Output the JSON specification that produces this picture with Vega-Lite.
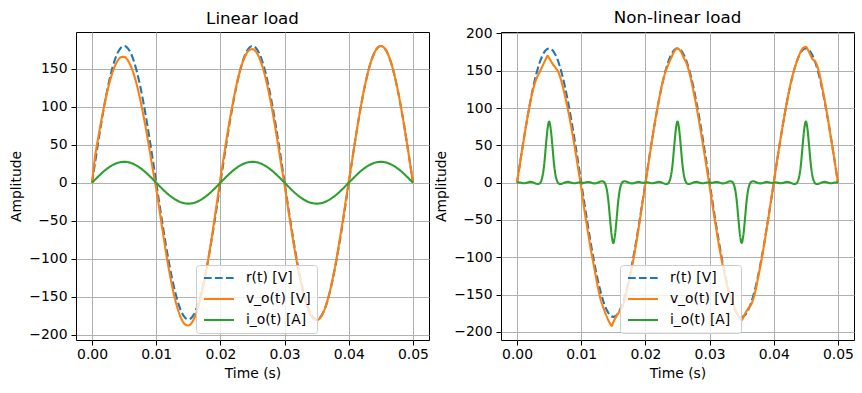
{
"$schema": "https://vega.github.io/schema/vega-lite/v6.json",
"padding": {"left": 9, "top": 9, "right": 5, "bottom": 5},
"spacing": 4,
"config": {
  "font": "DejaVu Sans",
  "view": {"stroke": "black", "strokeWidth": 1},
  "axis": {"grid": true, "gridColor": "#b0b0b0", "gridWidth": 1, "domain": false, "tickColor": "black", "tickSize": 5, "tickWidth": 1, "labelFont": "DejaVu Sans", "labelFontSize": 13.9, "labelColor": "black", "labelPadding": 4, "labelFlush": false, "labelOverlap": false, "titleFont": "DejaVu Sans", "titleFontSize": 13.9, "titleFontWeight": "normal", "titleColor": "black", "titlePadding": 5},
  "axisX": {"labelPadding": 2, "titlePadding": 6},
  "title": {"font": "DejaVu Sans", "fontSize": 16.7, "fontWeight": "normal", "color": "black", "anchor": "middle", "frame": "group"},
  "legend": {"symbolType": "M-1,0H5", "symbolSize": 100, "symbolStrokeWidth": 2.1, "labelFont": "DejaVu Sans", "labelFontSize": 13.9, "labelColor": "black", "padding": 6, "rowPadding": 6, "labelOffset": 30, "fillColor": "rgba(255,255,255,0.8)", "strokeColor": "#cccccc", "cornerRadius": 3}
},
"datasets": {
"r": [
{"t":0,"s":"r","y":0},{"t":0.0005,"s":"r","y":28.2},{"t":0.001,"s":"r","y":55.6},{"t":0.0015,"s":"r","y":81.7},{"t":0.002,"s":"r","y":105.8},{"t":0.0025,"s":"r","y":127.3},{"t":0.003,"s":"r","y":145.6},{"t":0.0035,"s":"r","y":160.4},{"t":0.004,"s":"r","y":171.2},{"t":0.0045,"s":"r","y":177.8},
{"t":0.005,"s":"r","y":180},{"t":0.0055,"s":"r","y":177.8},{"t":0.006,"s":"r","y":171.2},{"t":0.0065,"s":"r","y":160.4},{"t":0.007,"s":"r","y":145.6},{"t":0.0075,"s":"r","y":127.3},{"t":0.008,"s":"r","y":105.8},{"t":0.0085,"s":"r","y":81.7},{"t":0.009,"s":"r","y":55.6},{"t":0.0095,"s":"r","y":28.2},
{"t":0.01,"s":"r","y":0},{"t":0.0105,"s":"r","y":-28.2},{"t":0.011,"s":"r","y":-55.6},{"t":0.0115,"s":"r","y":-81.7},{"t":0.012,"s":"r","y":-105.8},{"t":0.0125,"s":"r","y":-127.3},{"t":0.013,"s":"r","y":-145.6},{"t":0.0135,"s":"r","y":-160.4},{"t":0.014,"s":"r","y":-171.2},{"t":0.0145,"s":"r","y":-177.8},
{"t":0.015,"s":"r","y":-180},{"t":0.0155,"s":"r","y":-177.8},{"t":0.016,"s":"r","y":-171.2},{"t":0.0165,"s":"r","y":-160.4},{"t":0.017,"s":"r","y":-145.6},{"t":0.0175,"s":"r","y":-127.3},{"t":0.018,"s":"r","y":-105.8},{"t":0.0185,"s":"r","y":-81.7},{"t":0.019,"s":"r","y":-55.6},{"t":0.0195,"s":"r","y":-28.2},
{"t":0.02,"s":"r","y":0},{"t":0.0205,"s":"r","y":28.2},{"t":0.021,"s":"r","y":55.6},{"t":0.0215,"s":"r","y":81.7},{"t":0.022,"s":"r","y":105.8},{"t":0.0225,"s":"r","y":127.3},{"t":0.023,"s":"r","y":145.6},{"t":0.0235,"s":"r","y":160.4},{"t":0.024,"s":"r","y":171.2},{"t":0.0245,"s":"r","y":177.8},
{"t":0.025,"s":"r","y":180},{"t":0.0255,"s":"r","y":177.8},{"t":0.026,"s":"r","y":171.2},{"t":0.0265,"s":"r","y":160.4},{"t":0.027,"s":"r","y":145.6},{"t":0.0275,"s":"r","y":127.3},{"t":0.028,"s":"r","y":105.8},{"t":0.0285,"s":"r","y":81.7},{"t":0.029,"s":"r","y":55.6},{"t":0.0295,"s":"r","y":28.2},
{"t":0.03,"s":"r","y":0},{"t":0.0305,"s":"r","y":-28.2},{"t":0.031,"s":"r","y":-55.6},{"t":0.0315,"s":"r","y":-81.7},{"t":0.032,"s":"r","y":-105.8},{"t":0.0325,"s":"r","y":-127.3},{"t":0.033,"s":"r","y":-145.6},{"t":0.0335,"s":"r","y":-160.4},{"t":0.034,"s":"r","y":-171.2},{"t":0.0345,"s":"r","y":-177.8},
{"t":0.035,"s":"r","y":-180},{"t":0.0355,"s":"r","y":-177.8},{"t":0.036,"s":"r","y":-171.2},{"t":0.0365,"s":"r","y":-160.4},{"t":0.037,"s":"r","y":-145.6},{"t":0.0375,"s":"r","y":-127.3},{"t":0.038,"s":"r","y":-105.8},{"t":0.0385,"s":"r","y":-81.7},{"t":0.039,"s":"r","y":-55.6},{"t":0.0395,"s":"r","y":-28.2},
{"t":0.04,"s":"r","y":0},{"t":0.0405,"s":"r","y":28.2},{"t":0.041,"s":"r","y":55.6},{"t":0.0415,"s":"r","y":81.7},{"t":0.042,"s":"r","y":105.8},{"t":0.0425,"s":"r","y":127.3},{"t":0.043,"s":"r","y":145.6},{"t":0.0435,"s":"r","y":160.4},{"t":0.044,"s":"r","y":171.2},{"t":0.0445,"s":"r","y":177.8},
{"t":0.045,"s":"r","y":180},{"t":0.0455,"s":"r","y":177.8},{"t":0.046,"s":"r","y":171.2},{"t":0.0465,"s":"r","y":160.4},{"t":0.047,"s":"r","y":145.6},{"t":0.0475,"s":"r","y":127.3},{"t":0.048,"s":"r","y":105.8},{"t":0.0485,"s":"r","y":81.7},{"t":0.049,"s":"r","y":55.6},{"t":0.0495,"s":"r","y":28.2},
{"t":0.05,"s":"r","y":0}
],
"lin": [
{"t":0,"s":"v","y":0},{"t":0.0005,"s":"v","y":36.2},{"t":0.001,"s":"v","y":61.1},{"t":0.0015,"s":"v","y":84.5},{"t":0.002,"s":"v","y":105.8},{"t":0.0025,"s":"v","y":124.5},{"t":0.003,"s":"v","y":140.2},{"t":0.0035,"s":"v","y":152.4},{"t":0.004,"s":"v","y":160.8},{"t":0.0045,"s":"v","y":165.3},
{"t":0.005,"s":"v","y":165.7},{"t":0.0055,"s":"v","y":162},{"t":0.006,"s":"v","y":154.3},{"t":0.0065,"s":"v","y":142.9},{"t":0.007,"s":"v","y":127.9},{"t":0.0075,"s":"v","y":109.8},{"t":0.008,"s":"v","y":88.9},{"t":0.0085,"s":"v","y":65.9},{"t":0.009,"s":"v","y":41.3},{"t":0.0095,"s":"v","y":15.6},
{"t":0.01,"s":"v","y":-8},{"t":0.0105,"s":"v","y":-35.2},{"t":0.011,"s":"v","y":-63.7},{"t":0.0115,"s":"v","y":-90.6},{"t":0.012,"s":"v","y":-115.2},{"t":0.0125,"s":"v","y":-137.1},{"t":0.013,"s":"v","y":-155.5},{"t":0.0135,"s":"v","y":-170.1},{"t":0.014,"s":"v","y":-180.5},{"t":0.0145,"s":"v","y":-186.5},
{"t":0.015,"s":"v","y":-187.9},{"t":0.0155,"s":"v","y":-184.7},{"t":0.016,"s":"v","y":-176.9},{"t":0.0165,"s":"v","y":-164.7},{"t":0.017,"s":"v","y":-148.6},{"t":0.0175,"s":"v","y":-128.7},{"t":0.018,"s":"v","y":-105.7},{"t":0.0185,"s":"v","y":-80.1},{"t":0.019,"s":"v","y":-52.5},{"t":0.0195,"s":"v","y":-23.6},
{"t":0.02,"s":"v","y":5.7},{"t":0.0205,"s":"v","y":33},{"t":0.021,"s":"v","y":59.6},{"t":0.0215,"s":"v","y":84.8},{"t":0.022,"s":"v","y":107.9},{"t":0.0225,"s":"v","y":128.3},{"t":0.023,"s":"v","y":145.6},{"t":0.0235,"s":"v","y":159.2},{"t":0.024,"s":"v","y":169},{"t":0.0245,"s":"v","y":174.6},
{"t":0.025,"s":"v","y":175.9},{"t":0.0255,"s":"v","y":172.9},{"t":0.026,"s":"v","y":165.6},{"t":0.0265,"s":"v","y":154.2},{"t":0.027,"s":"v","y":139.1},{"t":0.0275,"s":"v","y":120.5},{"t":0.028,"s":"v","y":98.9},{"t":0.0285,"s":"v","y":74.9},{"t":0.029,"s":"v","y":49.1},{"t":0.0295,"s":"v","y":22.1},
{"t":0.03,"s":"v","y":-3},{"t":0.0305,"s":"v","y":-31.1},{"t":0.031,"s":"v","y":-58.6},{"t":0.0315,"s":"v","y":-84.7},{"t":0.032,"s":"v","y":-108.7},{"t":0.0325,"s":"v","y":-130},{"t":0.033,"s":"v","y":-148.1},{"t":0.0335,"s":"v","y":-162.5},{"t":0.034,"s":"v","y":-173},{"t":0.0345,"s":"v","y":-179.2},
{"t":0.035,"s":"v","y":-181},{"t":0.0355,"s":"v","y":-178.3},{"t":0.036,"s":"v","y":-171.2},{"t":0.0365,"s":"v","y":-160},{"t":0.037,"s":"v","y":-144.7},{"t":0.0375,"s":"v","y":-126},{"t":0.038,"s":"v","y":-104.1},{"t":0.0385,"s":"v","y":-79.6},{"t":0.039,"s":"v","y":-53.2},{"t":0.0395,"s":"v","y":-25.5},
{"t":0.04,"s":"v","y":1.5},{"t":0.0405,"s":"v","y":28.2},{"t":0.041,"s":"v","y":55.6},{"t":0.0415,"s":"v","y":81.7},{"t":0.042,"s":"v","y":105.8},{"t":0.0425,"s":"v","y":127.3},{"t":0.043,"s":"v","y":145.6},{"t":0.0435,"s":"v","y":160.4},{"t":0.044,"s":"v","y":171.2},{"t":0.0445,"s":"v","y":177.8},
{"t":0.045,"s":"v","y":180},{"t":0.0455,"s":"v","y":177.8},{"t":0.046,"s":"v","y":171.2},{"t":0.0465,"s":"v","y":160.4},{"t":0.047,"s":"v","y":145.6},{"t":0.0475,"s":"v","y":127.3},{"t":0.048,"s":"v","y":105.8},{"t":0.0485,"s":"v","y":81.7},{"t":0.049,"s":"v","y":55.6},{"t":0.0495,"s":"v","y":28.2},
{"t":0.05,"s":"v","y":0},
{"t":0,"s":"i","y":0},{"t":0.001,"s":"i","y":8.5},{"t":0.002,"s":"i","y":16.2},{"t":0.003,"s":"i","y":22.2},{"t":0.004,"s":"i","y":26.2},{"t":0.005,"s":"i","y":27.5},{"t":0.006,"s":"i","y":26.2},{"t":0.007,"s":"i","y":22.2},{"t":0.008,"s":"i","y":16.2},{"t":0.009,"s":"i","y":8.5},
{"t":0.01,"s":"i","y":0},{"t":0.011,"s":"i","y":-8.5},{"t":0.012,"s":"i","y":-16.2},{"t":0.013,"s":"i","y":-22.2},{"t":0.014,"s":"i","y":-26.2},{"t":0.015,"s":"i","y":-27.5},{"t":0.016,"s":"i","y":-26.2},{"t":0.017,"s":"i","y":-22.2},{"t":0.018,"s":"i","y":-16.2},{"t":0.019,"s":"i","y":-8.5},
{"t":0.02,"s":"i","y":0},{"t":0.021,"s":"i","y":8.5},{"t":0.022,"s":"i","y":16.2},{"t":0.023,"s":"i","y":22.2},{"t":0.024,"s":"i","y":26.2},{"t":0.025,"s":"i","y":27.5},{"t":0.026,"s":"i","y":26.2},{"t":0.027,"s":"i","y":22.2},{"t":0.028,"s":"i","y":16.2},{"t":0.029,"s":"i","y":8.5},
{"t":0.03,"s":"i","y":0},{"t":0.031,"s":"i","y":-8.5},{"t":0.032,"s":"i","y":-16.2},{"t":0.033,"s":"i","y":-22.2},{"t":0.034,"s":"i","y":-26.2},{"t":0.035,"s":"i","y":-27.5},{"t":0.036,"s":"i","y":-26.2},{"t":0.037,"s":"i","y":-22.2},{"t":0.038,"s":"i","y":-16.2},{"t":0.039,"s":"i","y":-8.5},
{"t":0.04,"s":"i","y":0},{"t":0.041,"s":"i","y":8.5},{"t":0.042,"s":"i","y":16.2},{"t":0.043,"s":"i","y":22.2},{"t":0.044,"s":"i","y":26.2},{"t":0.045,"s":"i","y":27.5},{"t":0.046,"s":"i","y":26.2},{"t":0.047,"s":"i","y":22.2},{"t":0.048,"s":"i","y":16.2},{"t":0.049,"s":"i","y":8.5},
{"t":0.05,"s":"i","y":0}
],
"nl": [
{"t":0,"s":"v","y":0},{"t":0.0005,"s":"v","y":28},{"t":0.001,"s":"v","y":55},{"t":0.0015,"s":"v","y":81},{"t":0.002,"s":"v","y":105},{"t":0.0025,"s":"v","y":125},{"t":0.003,"s":"v","y":139},{"t":0.0035,"s":"v","y":148},{"t":0.004,"s":"v","y":157},{"t":0.0045,"s":"v","y":166},{"t":0.00475,"s":"v","y":170},
{"t":0.005,"s":"v","y":167},{"t":0.0055,"s":"v","y":160},{"t":0.006,"s":"v","y":154},{"t":0.0065,"s":"v","y":147},{"t":0.007,"s":"v","y":133},{"t":0.0075,"s":"v","y":115},{"t":0.008,"s":"v","y":95},{"t":0.0085,"s":"v","y":72},{"t":0.009,"s":"v","y":47},{"t":0.0095,"s":"v","y":20},
{"t":0.01,"s":"v","y":-7},{"t":0.0105,"s":"v","y":-37},{"t":0.011,"s":"v","y":-64},{"t":0.0115,"s":"v","y":-90},{"t":0.012,"s":"v","y":-113},{"t":0.0125,"s":"v","y":-136},{"t":0.013,"s":"v","y":-156},{"t":0.0135,"s":"v","y":-169},{"t":0.014,"s":"v","y":-180},{"t":0.0145,"s":"v","y":-189},{"t":0.01475,"s":"v","y":-192},
{"t":0.015,"s":"v","y":-187},{"t":0.0155,"s":"v","y":-179},{"t":0.016,"s":"v","y":-172},{"t":0.0165,"s":"v","y":-165},{"t":0.017,"s":"v","y":-149},{"t":0.0175,"s":"v","y":-130},{"t":0.018,"s":"v","y":-109},{"t":0.0185,"s":"v","y":-85},{"t":0.019,"s":"v","y":-58},{"t":0.0195,"s":"v","y":-30},
{"t":0.02,"s":"v","y":-2},{"t":0.0205,"s":"v","y":27},{"t":0.021,"s":"v","y":55},{"t":0.0215,"s":"v","y":82},{"t":0.022,"s":"v","y":106},{"t":0.0225,"s":"v","y":128},{"t":0.023,"s":"v","y":145},{"t":0.0235,"s":"v","y":157},{"t":0.024,"s":"v","y":167},{"t":0.0245,"s":"v","y":176},
{"t":0.025,"s":"v","y":180},{"t":0.0255,"s":"v","y":176},{"t":0.026,"s":"v","y":167},{"t":0.0265,"s":"v","y":158},{"t":0.027,"s":"v","y":142},{"t":0.0275,"s":"v","y":122},{"t":0.028,"s":"v","y":100},{"t":0.0285,"s":"v","y":75},{"t":0.029,"s":"v","y":49},{"t":0.0295,"s":"v","y":22},
{"t":0.03,"s":"v","y":-5},{"t":0.0305,"s":"v","y":-33},{"t":0.031,"s":"v","y":-60},{"t":0.0315,"s":"v","y":-86},{"t":0.032,"s":"v","y":-109},{"t":0.0325,"s":"v","y":-130},{"t":0.033,"s":"v","y":-148},{"t":0.0335,"s":"v","y":-159},{"t":0.034,"s":"v","y":-170},{"t":0.0345,"s":"v","y":-179},
{"t":0.035,"s":"v","y":-184},{"t":0.0355,"s":"v","y":-176},{"t":0.036,"s":"v","y":-169},{"t":0.0365,"s":"v","y":-163},{"t":0.037,"s":"v","y":-150},{"t":0.0375,"s":"v","y":-130},{"t":0.038,"s":"v","y":-108},{"t":0.0385,"s":"v","y":-83},{"t":0.039,"s":"v","y":-56},{"t":0.0395,"s":"v","y":-28},
{"t":0.04,"s":"v","y":0},{"t":0.0405,"s":"v","y":29},{"t":0.041,"s":"v","y":56},{"t":0.0415,"s":"v","y":82},{"t":0.042,"s":"v","y":106},{"t":0.0425,"s":"v","y":128},{"t":0.043,"s":"v","y":146},{"t":0.0435,"s":"v","y":160},{"t":0.044,"s":"v","y":172},{"t":0.0445,"s":"v","y":180},
{"t":0.045,"s":"v","y":182},{"t":0.0455,"s":"v","y":175},{"t":0.046,"s":"v","y":166},{"t":0.0465,"s":"v","y":162},{"t":0.047,"s":"v","y":150},{"t":0.0475,"s":"v","y":130},{"t":0.048,"s":"v","y":107},{"t":0.0485,"s":"v","y":82},{"t":0.049,"s":"v","y":55},{"t":0.0495,"s":"v","y":28},
{"t":0.05,"s":"v","y":0},
{"t":0,"s":"i","y":0},{"t":0.00025,"s":"i","y":0.3},{"t":0.0005,"s":"i","y":0.1},{"t":0.00075,"s":"i","y":-0.4},{"t":0.001,"s":"i","y":-0.8},{"t":0.00125,"s":"i","y":-0.7},{"t":0.0015,"s":"i","y":-0.2},{"t":0.00175,"s":"i","y":0.5},{"t":0.002,"s":"i","y":1},{"t":0.00225,"s":"i","y":0.9},
{"t":0.0025,"s":"i","y":0.3},{"t":0.00275,"s":"i","y":-0.6},{"t":0.003,"s":"i","y":-1.5},{"t":0.00325,"s":"i","y":-1.8},{"t":0.0035,"s":"i","y":-1.2},{"t":0.00375,"s":"i","y":2},{"t":0.004,"s":"i","y":10},{"t":0.00425,"s":"i","y":26},{"t":0.0045,"s":"i","y":50},{"t":0.00475,"s":"i","y":72},
{"t":0.005,"s":"i","y":82},{"t":0.00525,"s":"i","y":72},{"t":0.0055,"s":"i","y":50},{"t":0.00575,"s":"i","y":26},{"t":0.006,"s":"i","y":10},{"t":0.00625,"s":"i","y":2},{"t":0.0065,"s":"i","y":-1.2},{"t":0.00675,"s":"i","y":-1.8},{"t":0.007,"s":"i","y":-1.5},{"t":0.00725,"s":"i","y":-0.6},
{"t":0.0075,"s":"i","y":0.3},{"t":0.00775,"s":"i","y":0.9},{"t":0.008,"s":"i","y":1},{"t":0.00825,"s":"i","y":0.5},{"t":0.0085,"s":"i","y":-0.2},{"t":0.00875,"s":"i","y":-0.7},{"t":0.009,"s":"i","y":-0.8},{"t":0.00925,"s":"i","y":-0.4},{"t":0.0095,"s":"i","y":0.1},{"t":0.00975,"s":"i","y":0.3},
{"t":0.01,"s":"i","y":0},{"t":0.01025,"s":"i","y":-0.3},{"t":0.0105,"s":"i","y":-0.1},{"t":0.01075,"s":"i","y":0.4},{"t":0.011,"s":"i","y":0.8},{"t":0.01125,"s":"i","y":0.7},{"t":0.0115,"s":"i","y":0.2},{"t":0.01175,"s":"i","y":-0.5},{"t":0.012,"s":"i","y":-1},{"t":0.01225,"s":"i","y":-0.9},
{"t":0.0125,"s":"i","y":-0.3},{"t":0.01275,"s":"i","y":0.6},{"t":0.013,"s":"i","y":1.5},{"t":0.01325,"s":"i","y":1.8},{"t":0.0135,"s":"i","y":1.2},{"t":0.01375,"s":"i","y":-2},{"t":0.014,"s":"i","y":-10},{"t":0.01425,"s":"i","y":-26},{"t":0.0145,"s":"i","y":-50},{"t":0.01475,"s":"i","y":-71},
{"t":0.015,"s":"i","y":-81},{"t":0.01525,"s":"i","y":-71},{"t":0.0155,"s":"i","y":-50},{"t":0.01575,"s":"i","y":-26},{"t":0.016,"s":"i","y":-10},{"t":0.01625,"s":"i","y":-2},{"t":0.0165,"s":"i","y":1.2},{"t":0.01675,"s":"i","y":1.8},{"t":0.017,"s":"i","y":1.5},{"t":0.01725,"s":"i","y":0.6},
{"t":0.0175,"s":"i","y":-0.3},{"t":0.01775,"s":"i","y":-0.9},{"t":0.018,"s":"i","y":-1},{"t":0.01825,"s":"i","y":-0.5},{"t":0.0185,"s":"i","y":0.2},{"t":0.01875,"s":"i","y":0.7},{"t":0.019,"s":"i","y":0.8},{"t":0.01925,"s":"i","y":0.4},{"t":0.0195,"s":"i","y":-0.1},{"t":0.01975,"s":"i","y":-0.3},
{"t":0.02,"s":"i","y":0},{"t":0.02025,"s":"i","y":0.3},{"t":0.0205,"s":"i","y":0.1},{"t":0.02075,"s":"i","y":-0.4},{"t":0.021,"s":"i","y":-0.8},{"t":0.02125,"s":"i","y":-0.7},{"t":0.0215,"s":"i","y":-0.2},{"t":0.02175,"s":"i","y":0.5},{"t":0.022,"s":"i","y":1},{"t":0.02225,"s":"i","y":0.9},
{"t":0.0225,"s":"i","y":0.3},{"t":0.02275,"s":"i","y":-0.6},{"t":0.023,"s":"i","y":-1.5},{"t":0.02325,"s":"i","y":-1.8},{"t":0.0235,"s":"i","y":-1.2},{"t":0.02375,"s":"i","y":2},{"t":0.024,"s":"i","y":10},{"t":0.02425,"s":"i","y":26},{"t":0.0245,"s":"i","y":50},{"t":0.02475,"s":"i","y":72},
{"t":0.025,"s":"i","y":82},{"t":0.02525,"s":"i","y":72},{"t":0.0255,"s":"i","y":50},{"t":0.02575,"s":"i","y":26},{"t":0.026,"s":"i","y":10},{"t":0.02625,"s":"i","y":2},{"t":0.0265,"s":"i","y":-1.2},{"t":0.02675,"s":"i","y":-1.8},{"t":0.027,"s":"i","y":-1.5},{"t":0.02725,"s":"i","y":-0.6},
{"t":0.0275,"s":"i","y":0.3},{"t":0.02775,"s":"i","y":0.9},{"t":0.028,"s":"i","y":1},{"t":0.02825,"s":"i","y":0.5},{"t":0.0285,"s":"i","y":-0.2},{"t":0.02875,"s":"i","y":-0.7},{"t":0.029,"s":"i","y":-0.8},{"t":0.02925,"s":"i","y":-0.4},{"t":0.0295,"s":"i","y":0.1},{"t":0.02975,"s":"i","y":0.3},
{"t":0.03,"s":"i","y":0},{"t":0.03025,"s":"i","y":-0.3},{"t":0.0305,"s":"i","y":-0.1},{"t":0.03075,"s":"i","y":0.4},{"t":0.031,"s":"i","y":0.8},{"t":0.03125,"s":"i","y":0.7},{"t":0.0315,"s":"i","y":0.2},{"t":0.03175,"s":"i","y":-0.5},{"t":0.032,"s":"i","y":-1},{"t":0.03225,"s":"i","y":-0.9},
{"t":0.0325,"s":"i","y":-0.3},{"t":0.03275,"s":"i","y":0.6},{"t":0.033,"s":"i","y":1.5},{"t":0.03325,"s":"i","y":1.8},{"t":0.0335,"s":"i","y":1.2},{"t":0.03375,"s":"i","y":-2},{"t":0.034,"s":"i","y":-10},{"t":0.03425,"s":"i","y":-26},{"t":0.0345,"s":"i","y":-50},{"t":0.03475,"s":"i","y":-71},
{"t":0.035,"s":"i","y":-81},{"t":0.03525,"s":"i","y":-71},{"t":0.0355,"s":"i","y":-50},{"t":0.03575,"s":"i","y":-26},{"t":0.036,"s":"i","y":-10},{"t":0.03625,"s":"i","y":-2},{"t":0.0365,"s":"i","y":1.2},{"t":0.03675,"s":"i","y":1.8},{"t":0.037,"s":"i","y":1.5},{"t":0.03725,"s":"i","y":0.6},
{"t":0.0375,"s":"i","y":-0.3},{"t":0.03775,"s":"i","y":-0.9},{"t":0.038,"s":"i","y":-1},{"t":0.03825,"s":"i","y":-0.5},{"t":0.0385,"s":"i","y":0.2},{"t":0.03875,"s":"i","y":0.7},{"t":0.039,"s":"i","y":0.8},{"t":0.03925,"s":"i","y":0.4},{"t":0.0395,"s":"i","y":-0.1},{"t":0.03975,"s":"i","y":-0.3},
{"t":0.04,"s":"i","y":0},{"t":0.04025,"s":"i","y":0.3},{"t":0.0405,"s":"i","y":0.1},{"t":0.04075,"s":"i","y":-0.4},{"t":0.041,"s":"i","y":-0.8},{"t":0.04125,"s":"i","y":-0.7},{"t":0.0415,"s":"i","y":-0.2},{"t":0.04175,"s":"i","y":0.5},{"t":0.042,"s":"i","y":1},{"t":0.04225,"s":"i","y":0.9},
{"t":0.0425,"s":"i","y":0.3},{"t":0.04275,"s":"i","y":-0.6},{"t":0.043,"s":"i","y":-1.5},{"t":0.04325,"s":"i","y":-1.8},{"t":0.0435,"s":"i","y":-1.2},{"t":0.04375,"s":"i","y":2},{"t":0.044,"s":"i","y":10},{"t":0.04425,"s":"i","y":26},{"t":0.0445,"s":"i","y":50},{"t":0.04475,"s":"i","y":72},
{"t":0.045,"s":"i","y":82},{"t":0.04525,"s":"i","y":72},{"t":0.0455,"s":"i","y":50},{"t":0.04575,"s":"i","y":26},{"t":0.046,"s":"i","y":10},{"t":0.04625,"s":"i","y":2},{"t":0.0465,"s":"i","y":-1.2},{"t":0.04675,"s":"i","y":-1.8},{"t":0.047,"s":"i","y":-1.5},{"t":0.04725,"s":"i","y":-0.6},
{"t":0.0475,"s":"i","y":0.3},{"t":0.04775,"s":"i","y":0.9},{"t":0.048,"s":"i","y":1},{"t":0.04825,"s":"i","y":0.5},{"t":0.0485,"s":"i","y":-0.2},{"t":0.04875,"s":"i","y":-0.7},{"t":0.049,"s":"i","y":-0.8},{"t":0.04925,"s":"i","y":-0.4},{"t":0.0495,"s":"i","y":0.1},{"t":0.04975,"s":"i","y":0.3},
{"t":0.05,"s":"i","y":0}
]
},
"hconcat": [
{
  "title": {"text": "Linear load", "offset": 4},
  "width": 353, "height": 308,
  "encoding": {
    "x": {"field": "t", "type": "quantitative", "scale": {"domain": [-0.0025, 0.0525], "nice": false, "zero": false}, "axis": {"values": [0, 0.01, 0.02, 0.03, 0.04, 0.05], "format": ".2f", "title": "Time (s)"}},
    "y": {"field": "y", "type": "quantitative", "scale": {"domain": [-207, 198.4], "nice": false, "zero": false}, "axis": {"values": [-200, -150, -100, -50, 0, 50, 100, 150], "title": "Amplitude"}},
    "color": {"field": "s", "type": "nominal", "scale": {"domain": ["r", "v", "i"], "range": ["#1f77b4", "#ff7f0e", "#2ca02c"]}, "legend": {"orient": "none", "legendX": 120, "legendY": 233, "title": null, "labelExpr": "datum.label == 'r' ? 'r(t) [V]' : datum.label == 'v' ? 'v_o(t) [V]' : 'i_o(t) [A]'"}},
    "strokeDash": {"field": "s", "type": "nominal", "scale": {"domain": ["r", "v", "i"], "range": [[7.7, 3.3], [1, 0], [1, 0]]}, "legend": {"orient": "none", "legendX": 120, "legendY": 233, "title": null, "labelExpr": "datum.label == 'r' ? 'r(t) [V]' : datum.label == 'v' ? 'v_o(t) [V]' : 'i_o(t) [A]'"}}
  },
  "layer": [
    {"data": {"name": "r"}, "mark": {"type": "line", "interpolate": "monotone", "strokeWidth": 2.1}},
    {"data": {"name": "lin"}, "mark": {"type": "line", "interpolate": "monotone", "strokeWidth": 2.1}}
  ]
},
{
  "title": {"text": "Non-linear load", "offset": 0},
  "width": 353, "height": 308,
  "encoding": {
    "x": {"field": "t", "type": "quantitative", "scale": {"domain": [-0.0025, 0.0525], "nice": false, "zero": false}, "axis": {"values": [0, 0.01, 0.02, 0.03, 0.04, 0.05], "format": ".2f", "title": "Time (s)"}},
    "y": {"field": "y", "type": "quantitative", "scale": {"domain": [-211, 202], "nice": false, "zero": false}, "axis": {"values": [-200, -150, -100, -50, 0, 50, 100, 150, 200], "title": "Amplitude"}},
    "color": {"field": "s", "type": "nominal", "scale": {"domain": ["r", "v", "i"], "range": ["#1f77b4", "#ff7f0e", "#2ca02c"]}, "legend": {"orient": "none", "legendX": 119, "legendY": 233, "title": null, "labelExpr": "datum.label == 'r' ? 'r(t) [V]' : datum.label == 'v' ? 'v_o(t) [V]' : 'i_o(t) [A]'"}},
    "strokeDash": {"field": "s", "type": "nominal", "scale": {"domain": ["r", "v", "i"], "range": [[7.7, 3.3], [1, 0], [1, 0]]}, "legend": {"orient": "none", "legendX": 119, "legendY": 233, "title": null, "labelExpr": "datum.label == 'r' ? 'r(t) [V]' : datum.label == 'v' ? 'v_o(t) [V]' : 'i_o(t) [A]'"}}
  },
  "layer": [
    {"data": {"name": "r"}, "mark": {"type": "line", "interpolate": "monotone", "strokeWidth": 2.1}},
    {"data": {"name": "nl"}, "mark": {"type": "line", "interpolate": "monotone", "strokeWidth": 2.1}}
  ]
}
],
"resolve": {"scale": {"x": "independent", "y": "independent", "color": "independent", "strokeDash": "independent"}, "legend": {"color": "independent", "strokeDash": "independent"}}
}
